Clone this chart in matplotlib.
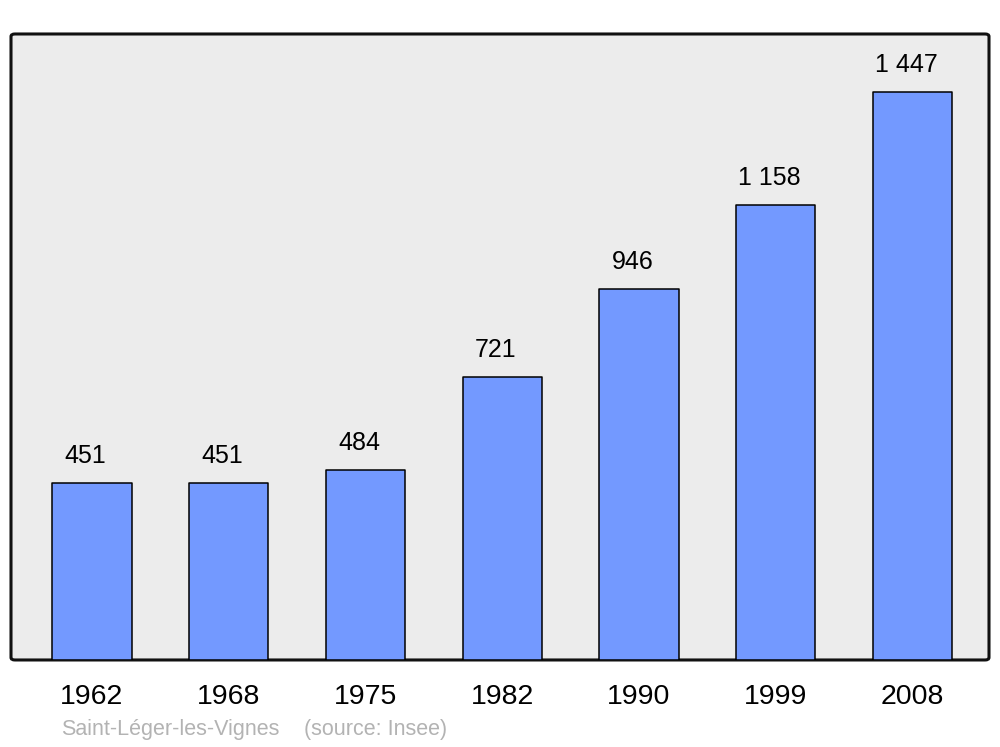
#!/usr/bin/env python3

import matplotlib
matplotlib.use("Agg")
import matplotlib.pyplot as plt
from matplotlib.patches import FancyBboxPatch

"""
Population bar chart: Saint-Léger-les-Vignes
"""

years = ["1962", "1968", "1975", "1982", "1990", "1999", "2008"]
population = [451, 451, 484, 721, 946, 1158, 1447]
labels = ["451", "451", "484", "721", "946", "1 158", "1 447"]


def main():
    plt.rcParams["font.family"] = ["Liberation Sans", "DejaVu Sans"]

    fig = plt.figure(figsize=(10, 7.47), dpi=100)
    ax = fig.add_axes([0.011, 0.1165, 0.978, 0.838])

    # rounded frame instead of the default patch/spines
    ax.patch.set_visible(False)
    for s in ax.spines.values():
        s.set_visible(False)
    frame = FancyBboxPatch((0, 0), 1, 1, boxstyle="round,pad=0,rounding_size=0.004",
                           transform=ax.transAxes, facecolor="#ececec",
                           edgecolor="#111111", linewidth=2.2, zorder=0,
                           clip_on=False)
    ax.add_patch(frame)

    x = list(range(len(years)))
    bars = ax.bar(x, population, width=0.58, color="#7399ff",
                  edgecolor="black", linewidth=1.1, zorder=2)
    for b in bars:
        b.set_joinstyle("round")

    for xi, v, lab in zip(x, population, labels):
        ax.annotate(lab, (xi, v), xytext=(-4.5, 19.5), textcoords="offset points",
                    ha="center", va="center", fontsize=18, color="black")

    ax.set_xlim(-0.592, 6.56)
    ax.set_ylim(0, 1595)
    ax.set_xticks(x)
    ax.set_xticklabels(years, fontsize=20.5)
    ax.set_yticks([])
    ax.tick_params(axis="x", length=0, pad=17)

    fig.text(0.061, 0.0165, "Saint-Léger-les-Vignes", fontsize=15.5,
             color="#b3b3b3", ha="left", va="baseline")
    fig.text(0.304, 0.0165, "(source: Insee)", fontsize=15.5,
             color="#b3b3b3", ha="left", va="baseline")

    fig.savefig("out.png", dpi=100)


if __name__ == "__main__":
    main()
